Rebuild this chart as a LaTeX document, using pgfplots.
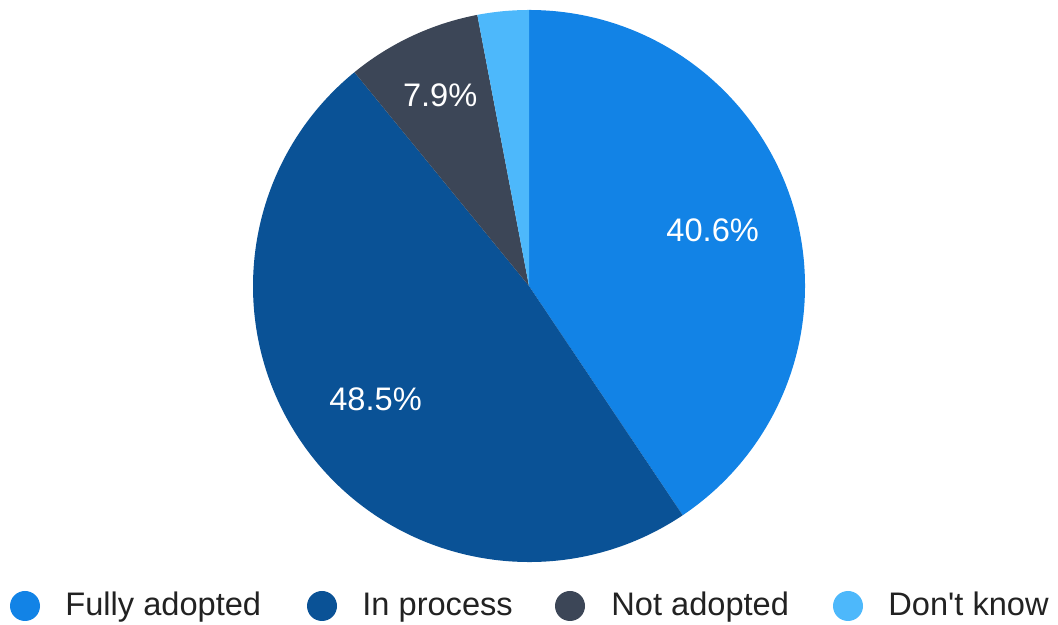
\documentclass[border=0pt]{standalone}
\usepackage{pgfplots}
\usepackage{pgfplotstable}
\pgfplotsset{compat=1.18}
\usetikzlibrary{calc}
\usepackage{fontspec}
\setmainfont{Liberation Sans}
\definecolor{cA}{HTML}{1283E6}
\definecolor{cB}{HTML}{0A5296}
\definecolor{cC}{HTML}{3C4657}
\definecolor{cD}{HTML}{4DB8FB}
\definecolor{txt}{HTML}{222222}
\pgfplotstableread{
label value
{Fully adopted} 40.6
{In process} 48.5
{Not adopted} 7.9
{Don't know} 3.0
}\piedata
\pgfplotstablegetelem{0}{value}\of\piedata \let\vA\pgfplotsretval
\pgfplotstablegetelem{1}{value}\of\piedata \let\vB\pgfplotsretval
\pgfplotstablegetelem{2}{value}\of\piedata \let\vC\pgfplotsretval
\pgfplotstablegetelem{3}{value}\of\piedata \let\vD\pgfplotsretval
\pgfmathsetmacro\sA{90}
\pgfmathsetmacro\eA{\sA-3.6*\vA}
\pgfmathsetmacro\eB{\eA-3.6*\vB}
\pgfmathsetmacro\eC{\eB-3.6*\vC}
\pgfmathsetmacro\eD{\eC-3.6*\vD}
\pgfmathsetmacro\mA{(\sA+\eA)/2}
\pgfmathsetmacro\mB{(\eA+\eB)/2}
\pgfmathsetmacro\mC{(\eB+\eC)/2}
\def\R{138pt}
\begin{document}
\begin{tikzpicture}
\begin{axis}[
  x=0.5pt, y=0.5pt,
  xmin=0, xmax=1058, ymin=0, ymax=625,
  hide axis, clip=false, scale only axis,
]
\path (axis cs:0,0) rectangle (axis cs:1058,625);
\coordinate (C) at (axis cs:529,339);
\fill[cA] (C) -- ++(\sA:\R) arc[start angle=\sA, end angle=\eA, radius=\R] -- cycle;
\fill[cB] (C) -- ++(\eA:\R) arc[start angle=\eA, end angle=\eB, radius=\R] -- cycle;
\fill[cC] (C) -- ++(\eB:\R) arc[start angle=\eB, end angle=\eC, radius=\R] -- cycle;
\fill[cD] (C) -- ++(\eC:\R) arc[start angle=\eC, end angle=\eD, radius=\R] -- cycle;
\node[white, font=\fontsize{16.3}{19}\selectfont] at ($(C)+(\mA:96pt)$) {\vA\%};
\node[white, font=\fontsize{16.3}{19}\selectfont] at ($(C)+(\mB:95.5pt)$) {\vB\%};
\node[white, font=\fontsize{16.3}{19}\selectfont] at ($(C)+(\mC:105pt)$) {\vC\%};
% legend
\fill[cA] (axis cs:25,19) circle[radius=7.5pt];
\fill[cB] (axis cs:322,19) circle[radius=7.5pt];
\fill[cC] (axis cs:570,19) circle[radius=7.5pt];
\fill[cD] (axis cs:848,19) circle[radius=7.5pt];
\node[anchor=base west, inner sep=0pt, text=txt, font=\fontsize{16.3}{19}\selectfont] at (axis cs:65,9) {Fully adopted};
\node[anchor=base west, inner sep=0pt, text=txt, font=\fontsize{16.3}{19}\selectfont] at (axis cs:362,9) {In process};
\node[anchor=base west, inner sep=0pt, text=txt, font=\fontsize{16.3}{19}\selectfont] at (axis cs:611,9) {Not adopted};
\node[anchor=base west, inner sep=0pt, text=txt, font=\fontsize{16.3}{19}\selectfont] at (axis cs:888,9) {Don\textquotesingle t know};
\end{axis}
\end{tikzpicture}
\end{document}
